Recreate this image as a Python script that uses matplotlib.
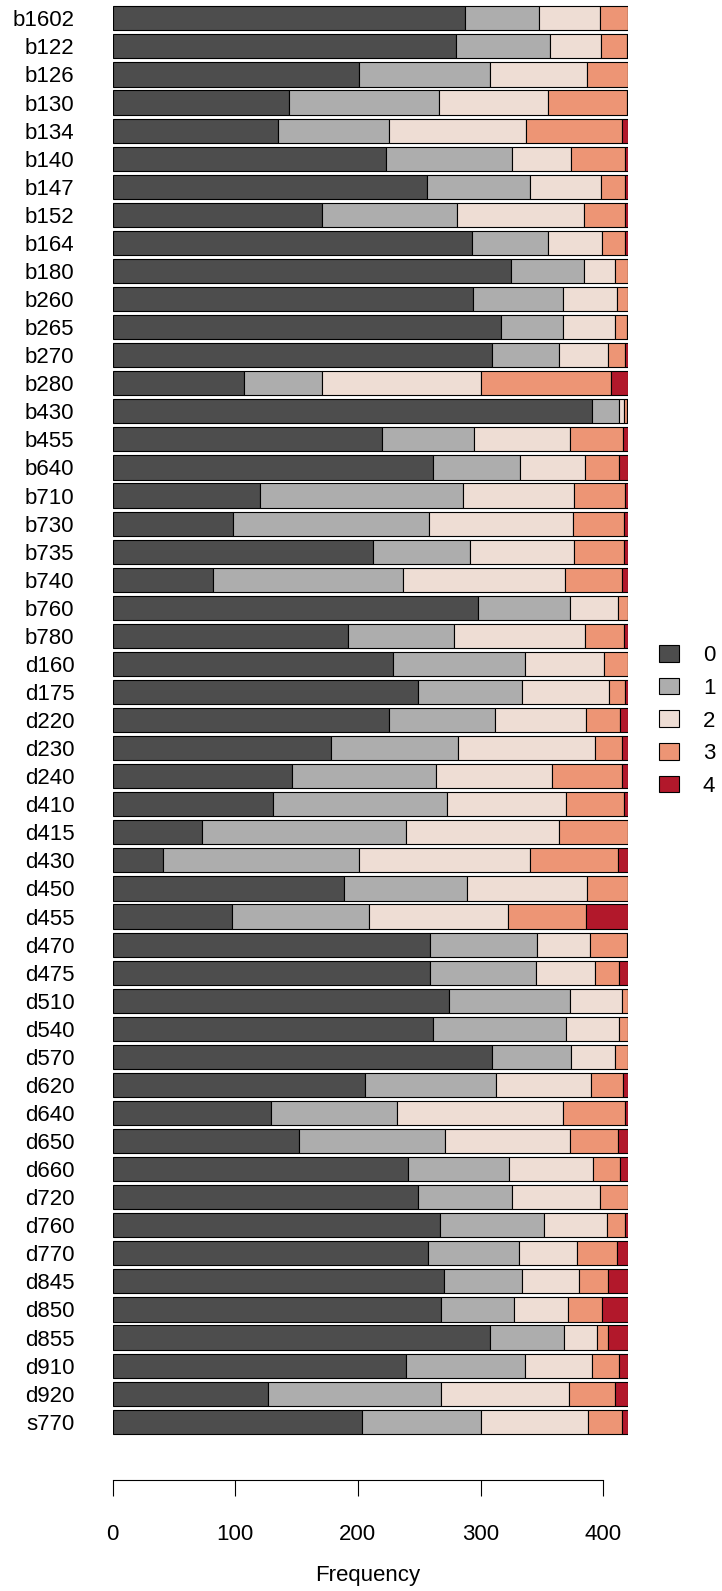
import matplotlib
matplotlib.use("Agg")
import matplotlib.pyplot as plt

plt.rcParams['font.family'] = ['Liberation Sans', 'DejaVu Sans']

cats = ['b1602', 'b122', 'b126', 'b130', 'b134', 'b140', 'b147', 'b152',
        'b164', 'b180', 'b260', 'b265', 'b270', 'b280', 'b430', 'b455',
        'b640', 'b710', 'b730', 'b735', 'b740', 'b760', 'b780',
        'd160', 'd175',
        'd220', 'd230', 'd240', 'd410', 'd415', 'd430', 'd450', 'd455',
        'd470', 'd475', 'd510', 'd540', 'd570', 'd620', 'd640', 'd650',
        'd660', 'd720', 'd760', 'd770', 'd845', 'd850', 'd855', 'd910',
        'd920', 's770']

lvl0 = [287, 280, 201, 144, 135, 223, 256, 171,
        293, 325, 294, 317, 309, 107, 391, 220,
        261, 120, 98, 212, 82, 298, 192,
        229, 249,
        225, 178, 146, 131, 73, 41, 189, 97,
        259, 259, 274, 261, 309, 206, 129, 152,
        241, 249, 267, 257, 270, 268, 308, 239,
        127, 203]
lvl1 = [61, 77, 107, 122, 90, 103, 84, 110,
        62, 59, 73, 50, 55, 64, 22, 75,
        71, 166, 160, 79, 155, 75, 86,
        107, 85,
        87, 104, 118, 142, 166, 160, 100, 112,
        87, 86, 99, 109, 65, 107, 103, 119,
        82, 77, 85, 74, 64, 59, 60, 97,
        141, 97]
lvl2 = [49, 41, 79, 89, 112, 48, 58, 103,
        44, 26, 44, 43, 40, 129, 4, 78,
        53, 90, 117, 85, 132, 39, 107,
        65, 71,
        74, 111, 94, 97, 125, 139, 98, 113,
        43, 48, 42, 43, 36, 77, 135, 102,
        69, 71, 51, 48, 46, 44, 27, 55,
        104, 88]
lvl3 = [23, 21, 33, 64, 78, 44, 20, 34,
        19, 10, 9, 9, 14, 106, 2, 43,
        28, 42, 42, 41, 46, 8, 32,
        19, 13,
        28, 22, 57, 47, 56, 72, 33, 64,
        30, 20, 5, 7, 10, 26, 51, 39,
        22, 23, 15, 32, 24, 28, 9, 22,
        38, 27]
lvl4 = [0, 1, 0, 1, 5, 2, 2, 2,
        2, 0, 0, 1, 2, 14, 1, 4,
        7, 2, 3, 3, 5, 0, 3,
        0, 2,
        6, 5, 5, 3, 0, 8, 0, 34,
        1, 7, 0, 0, 0, 4, 2, 8,
        6, 0, 2, 9, 16, 21, 16, 7,
        10, 5]

levels = ['0', '1', '2', '3', '4']
colors = ['#4d4d4d', '#adadad', '#eeddd4', '#ed9575', '#b2182b']

W, H = 722, 1591
fig = plt.figure(figsize=(W / 100, H / 100), dpi=100)

# plot region in pixels
x0px, px_per_unit = 112.6, 1.2265
top_px, bot_px = 4.3, 1435.8
ax = fig.add_axes([x0px / W, 1 - bot_px / H,
                   420 * px_per_unit / W, (bot_px - top_px) / H])

ypos = list(range(len(cats)))
left = [0] * len(cats)
for vals, col, lab in zip([lvl0, lvl1, lvl2, lvl3, lvl4], colors, levels):
    ax.barh(ypos, vals, left=left, height=0.86, color=col,
            edgecolor='black', linewidth=0.8, label=lab)
    left = [a + b for a, b in zip(left, vals)]

ax.set_xlim(0, 420)
ax.set_ylim(len(cats) - 0.5, -0.5)

for s in ['top', 'right', 'left']:
    ax.spines[s].set_visible(False)
ax.spines['bottom'].set_position(('outward', 32))
ax.spines['bottom'].set_bounds(0, 400)
ax.spines['bottom'].set_linewidth(0.8)

fs = 16
ax.set_xticks([0, 100, 200, 300, 400])
ax.tick_params(axis='x', length=11.5, width=0.8, pad=20, labelsize=fs)
ax.set_yticks(ypos)
ax.set_yticklabels(cats)
ax.tick_params(axis='y', length=0, pad=27.5, labelsize=fs)

fig.text(367.5 / W, 1 - 1575 / H, 'Frequency',
         ha='center', va='center', fontsize=fs)

fig.legend(loc='center left', bbox_to_anchor=(650 / W, 1 - 721 / H),
           frameon=False, fontsize=fs, handlelength=0.9, handleheight=0.77,
           handletextpad=1.08, labelspacing=0.52, borderaxespad=0)

fig.savefig('out.png', dpi=100)
